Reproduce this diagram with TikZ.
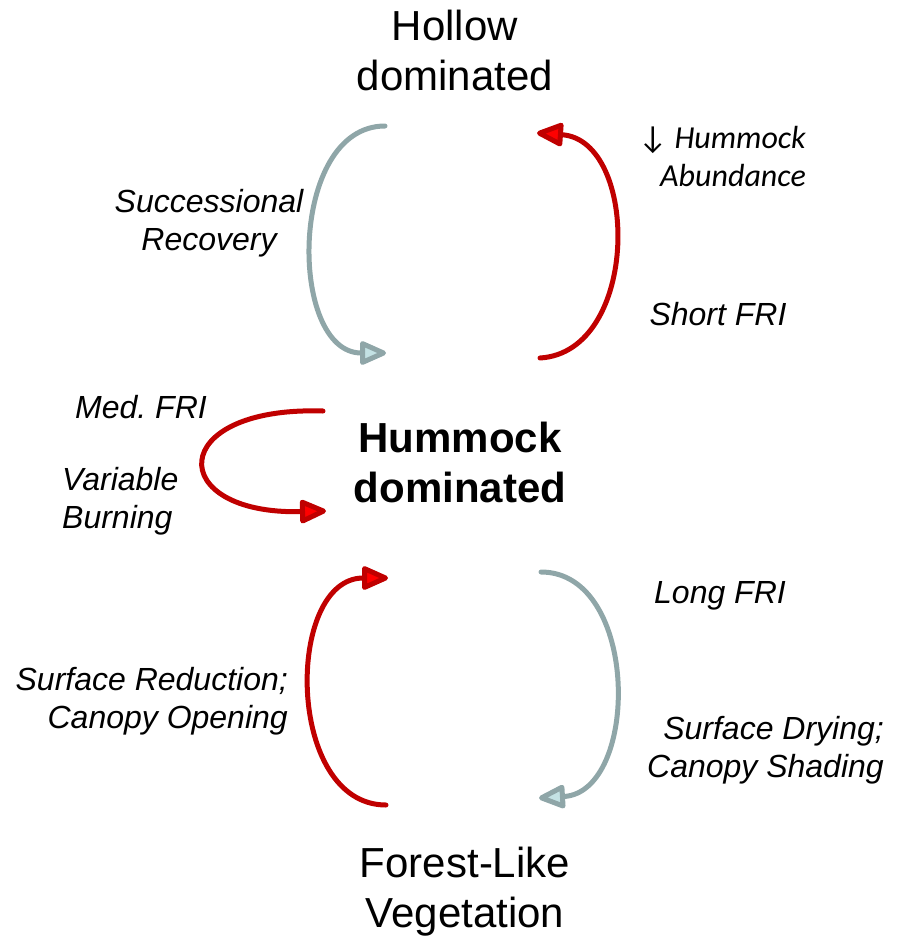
\documentclass[tikz,border=0pt]{standalone}
\usepackage{fontspec}
\setmainfont{Liberation Sans}
\newfontfamily\calfont{Carlito}
\usetikzlibrary{arrows.meta}
\definecolor{arcred}{RGB}{192,0,0}
\definecolor{tipred}{RGB}{255,0,0}
\definecolor{arcgray}{RGB}{143,166,168}
\definecolor{tipgray}{RGB}{196,226,228}
\tikzset{
  state/.style={font=\fontsize{42}{50}\selectfont, align=center, inner sep=0pt},
  lbl/.style={font=\fontsize{32}{38}\selectfont\itshape, inner sep=0pt},
  redarc/.style={draw=arcred, line width=5pt, line cap=round,
    arrows={-Triangle[length=30pt,width=25pt,fill=tipred,round]}},
  grayarc/.style={draw=arcgray, line width=5pt, line cap=round,
    arrows={-Triangle[length=30pt,width=25pt,fill=tipgray,round]}},
}
\frenchspacing
\begin{document}
\begin{tikzpicture}[x=1pt,y=-1pt]
\useasboundingbox (0,0) rectangle (898,940);
% states
\node[state] (hollow) at (455,50) {Hollow\\dominated};
\node[state, font=\fontsize{42}{50}\selectfont\bfseries] (hummock) at (460,462) {Hummock\\dominated};
\node[state] (forest) at (465,892) {Forest-Like\\Vegetation};
% labels
\node[lbl, align=center] (succ) at (209,223) {Successional\\Recovery};
\node[lbl, align=right, font=\fontsize{32}{38}\selectfont\calfont\itshape, anchor=east] (abund) at (806,156) {{\upshape ↓} Hummock\\Abundance};
\node[lbl] (short) at (718,314) {Short FRI};
\node[lbl] (med) at (141,407) {Med. FRI};
\node[lbl, align=left, anchor=west] (var) at (62,501) {Variable\\Burning};
\node[lbl] (long) at (720,596) {Long FRI};
\node[lbl, align=right, anchor=east] (surfred) at (288,701) {Surface Reduction;\\Canopy Opening};
\node[lbl, align=right, anchor=east] (surfdry) at (884,750) {Surface Drying;\\Canopy Shading};
% arc end points
\coordinate (a1s) at (385,126); \coordinate (a1e) at (386,353);
\coordinate (a2s) at (540,358); \coordinate (a2e) at (537,133);
\coordinate (a3s) at (323,411); \coordinate (a3e) at (326,511);
\coordinate (a4s) at (386,805); \coordinate (a4e) at (388,578);
\coordinate (a5s) at (541,572); \coordinate (a5e) at (539,798);
% arcs
\draw[grayarc] (a1s) .. controls (288,126) and (288,353) .. (a1e);
\draw[redarc] (a2s) .. controls (640,352) and (640,140) .. (a2e);
\draw[redarc] (a3s) .. controls (165,406) and (165,515) .. (a3e);
\draw[redarc] (a4s) .. controls (285,805) and (285,578) .. (a4e);
\draw[grayarc] (a5s) .. controls (640,572) and (640,792) .. (a5e);
\end{tikzpicture}
\end{document}
